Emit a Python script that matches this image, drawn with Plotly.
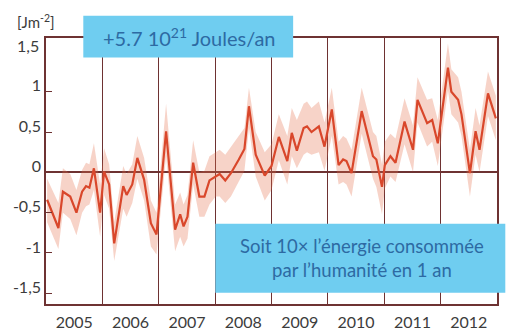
import plotly.graph_objects as go

# Ocean heat content anomaly (J m-2, scaled), decimal years
t = [2005.02, 2005.22, 2005.30, 2005.43, 2005.54, 2005.64, 2005.71, 2005.77, 2005.85, 2005.96,
     2006.03, 2006.12, 2006.21, 2006.37, 2006.43, 2006.53, 2006.62, 2006.74, 2006.86, 2006.96,
     2007.13, 2007.29, 2007.38, 2007.44, 2007.51, 2007.61, 2007.72, 2007.81, 2007.90,
     2008.01, 2008.08, 2008.18, 2008.28, 2008.42, 2008.52, 2008.60, 2008.72, 2008.88,
     2009.00, 2009.13, 2009.28, 2009.36, 2009.45, 2009.57, 2009.63, 2009.71, 2009.84, 2009.94,
     2010.07, 2010.19, 2010.27, 2010.33, 2010.42, 2010.60, 2010.80, 2010.86, 2010.96,
     2011.01, 2011.11, 2011.20, 2011.36, 2011.51, 2011.59, 2011.76, 2011.85, 2011.95,
     2012.13, 2012.19, 2012.31, 2012.37, 2012.52, 2012.62, 2012.69, 2012.84, 2012.98]

value = [-0.34, -0.69, -0.24, -0.30, -0.50, -0.24, -0.17, -0.19, 0.05, -0.50,
         0.01, -0.15, -0.88, -0.17, -0.28, -0.15, 0.18, -0.09, -0.63, -0.77,
         0.51, -0.71, -0.52, -0.67, -0.55, 0.12, -0.30, -0.30, -0.10,
         -0.05, -0.02, -0.10, -0.01, 0.16, 0.29, 0.82, 0.22, -0.04,
         0.08, 0.44, 0.14, 0.49, 0.27, 0.55, 0.57, 0.50, 0.57, 0.32,
         0.78, 0.09, 0.16, 0.14, -0.01, 0.76, 0.20, 0.16, -0.18,
         0.09, 0.20, 0.12, 0.63, 0.28, 0.90, 0.61, 0.65, 0.36,
         1.30, 1.00, 0.90, 0.72, -0.01, 0.51, 0.28, 0.98, 0.67]

upper = [-0.08, -0.38, 0.05, -0.02, -0.22, 0.03, 0.12, 0.10, 0.36, -0.15,
         0.30, 0.10, -0.62, 0.08, -0.02, 0.10, 0.45, 0.18, -0.35, -0.50,
         0.85, -0.40, -0.25, -0.40, -0.28, 0.40, 0.00, 0.02, 0.20,
         0.25, 0.28, 0.22, 0.32, 0.45, 0.55, 1.05, 0.50, 0.25,
         0.35, 0.72, 0.45, 0.80, 0.65, 0.85, 0.88, 0.80, 0.88, 0.62,
         1.05, 0.38, 0.45, 0.42, 0.28, 1.05, 0.50, 0.45, 0.10,
         0.38, 0.48, 0.42, 0.92, 0.58, 1.18, 0.90, 0.92, 0.65,
         1.60, 1.28, 1.18, 1.00, 0.28, 0.80, 0.58, 1.25, 0.95]

lower = [-0.62, -0.95, -0.50, -0.58, -0.78, -0.50, -0.42, -0.40, -0.22, -0.80,
         -0.28, -0.45, -1.10, -0.45, -0.55, -0.38, -0.08, -0.35, -0.92, -1.02,
         0.20, -0.98, -0.80, -0.92, -0.82, -0.15, -0.55, -0.55, -0.40,
         -0.30, -0.30, -0.38, -0.30, -0.12, 0.02, 0.55, -0.05, -0.35,
         -0.22, 0.15, -0.15, 0.20, 0.05, 0.22, 0.25, 0.22, 0.25, 0.02,
         0.45, -0.15, -0.12, -0.15, -0.30, 0.48, -0.08, -0.18, -0.52,
         -0.20, -0.05, -0.12, 0.35, 0.00, 0.62, 0.32, 0.38, 0.08,
         1.02, 0.72, 0.62, 0.45, -0.30, 0.22, 0.00, 0.70, 0.40]

years = [2005, 2006, 2007, 2008, 2009, 2010, 2011, 2012]
y_ticks = [-1.5, -1, -0.5, 0, 0.5, 1]
y_ticktext = ["-1,5", "-1", "-0,5", "0", "0,5", "1"]

BROWN = "#6e3232"
LINE = "#d9472b"
BAND = "rgba(228,110,72,0.30)"
TEXT = "#3c3c3c"
BOX = "#6fcdf0"
BOX_TEXT = "#2d6aa3"
FONT = "Lato"

fig = go.Figure()
fig.add_trace(go.Scatter(x=t, y=lower, mode="lines", line=dict(width=0),
                         hoverinfo="skip", showlegend=False))
fig.add_trace(go.Scatter(x=t, y=upper, mode="lines", line=dict(width=0),
                         fill="tonexty", fillcolor=BAND,
                         hoverinfo="skip", showlegend=False))
fig.add_trace(go.Scatter(x=t, y=value, mode="lines",
                         line=dict(color=LINE, width=2.2), showlegend=False))

fig.update_layout(
    width=508, height=331,
    margin=dict(l=45.7, r=11.3, t=38.3, b=26.7),
    plot_bgcolor="white", paper_bgcolor="white",
    font=dict(family=FONT, size=16, color=TEXT),
    xaxis=dict(
        range=[2005, 2013], automargin=False,
        tickvals=[y + 0.5 for y in years],
        ticktext=[str(y) for y in years],
        ticks="", ticklabelstandoff=3,
        showgrid=False, zeroline=False,
        showline=True, mirror=True, linecolor=BROWN, linewidth=1.5,
        minor=dict(tickmode="linear", tick0=2005, dtick=1, showgrid=True,
                   gridcolor=BROWN, gridwidth=1.2, ticks=""),
        tickfont=dict(family=FONT, size=16, color=TEXT),
    ),
    yaxis=dict(
        range=[-1.633, 1.667], automargin=False,
        tickvals=y_ticks, ticktext=y_ticktext,
        ticks="inside", ticklen=6, tickwidth=1.3, tickcolor=BROWN,
        ticklabelshift=-6,
        showgrid=False,
        zeroline=True, zerolinecolor=BROWN, zerolinewidth=1.5,
        showline=True, mirror=True, linecolor=BROWN, linewidth=1.5,
        tickfont=dict(family=FONT, size=16, color=TEXT),
    ),
)

# Unit label and top tick label
fig.add_annotation(x=-0.068, y=1.062, xref="paper", yref="paper",
                   text="[Jm<sup>-2</sup>]", showarrow=False,
                   xanchor="left", yanchor="middle",
                   font=dict(family=FONT, size=15, color=TEXT))
fig.add_annotation(x=-0.01, y=1.5, xref="paper", yref="y",
                   text="1,5", showarrow=False, xanchor="right", yanchor="middle",
                   yshift=6, font=dict(family=FONT, size=16, color=TEXT))

# Highlight boxes
fig.add_shape(type="rect", xref="paper", yref="paper",
              x0=0.0827, x1=0.548, y0=0.9263, y1=1.0838,
              fillcolor=BOX, line=dict(width=0), layer="above")
fig.add_annotation(x=0.318, y=1.005, xref="paper", yref="paper",
                   text="+5.7 10<sup>21</sup> Joules/an", showarrow=False,
                   xanchor="center", yanchor="middle",
                   font=dict(family=FONT, size=20, color=BOX_TEXT))

fig.add_shape(type="rect", xref="paper", yref="paper",
              x0=0.3754, x1=1.0184, y0=0.0425, y1=0.3019,
              fillcolor=BOX, line=dict(width=0), layer="above")
fig.add_annotation(x=0.7015, y=0.174, xref="paper", yref="paper",
                   text="Soit 10× l’énergie consommée<br>par l’humanité en 1 an",
                   showarrow=False, xanchor="center", yanchor="middle",
                   align="center",
                   font=dict(family=FONT, size=18.5, color=BOX_TEXT))

fig.write_html("out.html")
